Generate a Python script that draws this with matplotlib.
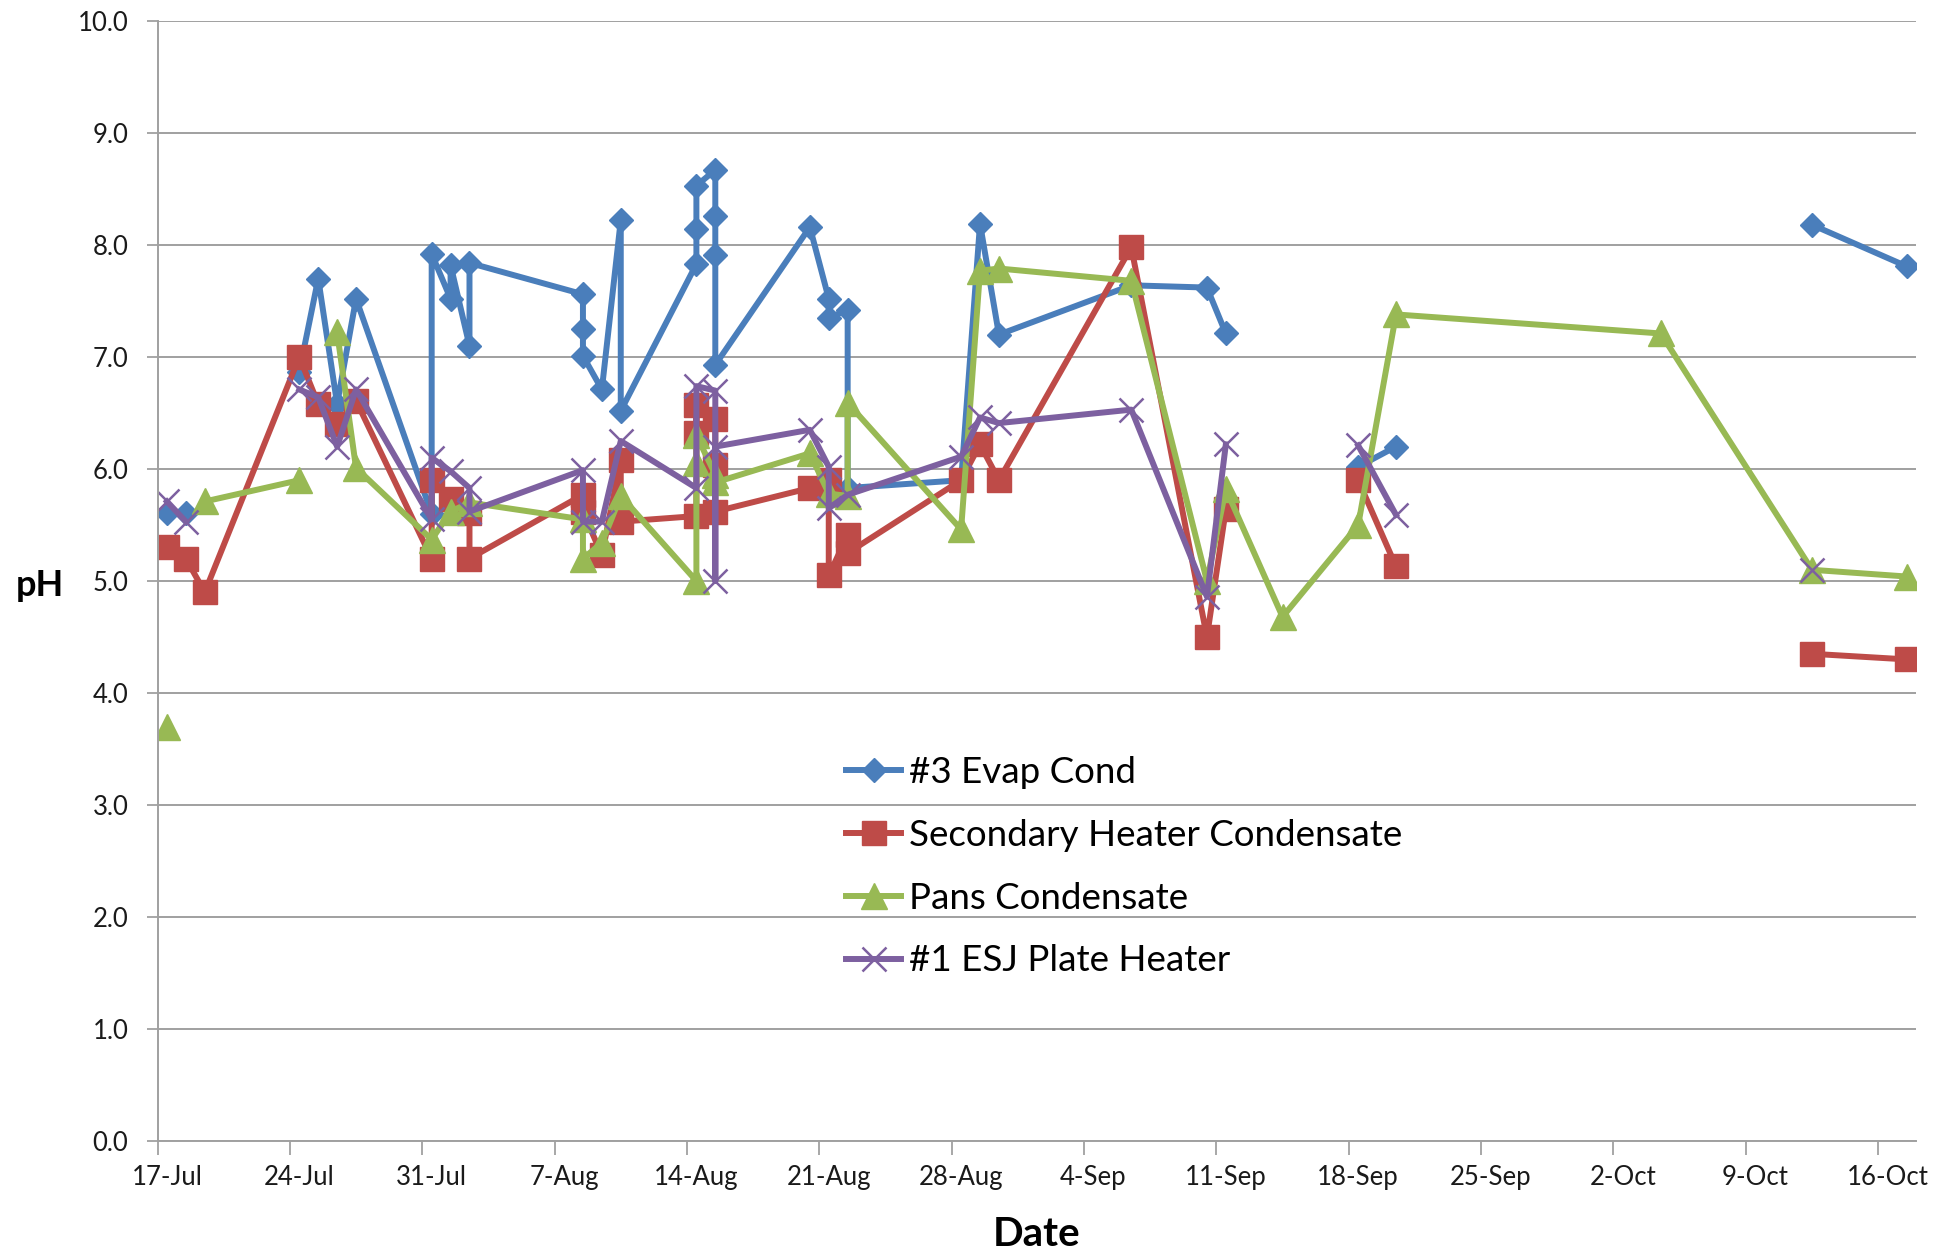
import matplotlib
matplotlib.use("Agg")
import matplotlib.pyplot as plt
import numpy as np
import pandas as pd

plt.rcParams['font.family'] = ['Lato', 'DejaVu Sans']

nan = np.nan

# #3 Evap Cond
evap_dates = ["07-17", "07-18", "07-19", "07-24", "07-25", "07-26", "07-27", "07-31", "07-31",
              "08-01", "08-01", "08-02", "08-02", "08-08", "08-08", "08-08", "08-09", "08-10",
              "08-10", "08-14", "08-14", "08-14", "08-15", "08-15", "08-15", "08-15", "08-20",
              "08-21", "08-21", "08-22", "08-22", "08-28", "08-29", "08-30", "09-06", "09-10",
              "09-11", "09-14", "09-18", "09-20", "10-04", "10-12", "10-17"]
evap_ph = [5.61, 5.61, nan, 6.87, 7.70, 6.58, 7.52, 5.60, 7.92,
           7.52, 7.82, 7.10, 7.84, 7.56, 7.25, 7.01, 6.71, 8.22,
           6.52, 7.83, 8.14, 8.53, 8.67, 8.26, 7.91, 6.93, 8.16,
           7.52, 7.35, 7.42, 5.83, 5.90, 8.19, 7.20, 7.64, 7.62,
           7.21, nan, 6.02, 6.20, nan, 8.18, 7.81]

# Secondary Heater Condensate
sec_dates = ["07-17", "07-18", "07-19", "07-24", "07-25", "07-26", "07-27", "07-31", "07-31",
             "08-01", "08-02", "08-02", "08-08", "08-08", "08-09", "08-10", "08-10", "08-14",
             "08-14", "08-14", "08-15", "08-15", "08-15", "08-20", "08-21", "08-21", "08-22",
             "08-22", "08-28", "08-29", "08-30", "09-06", "09-10", "09-11", "09-14", "09-18",
             "09-20", "10-04", "10-12", "10-17"]
sec_ph = [5.30, 5.20, 4.90, 7.00, 6.58, 6.40, 6.61, 5.20, 5.90,
          5.73, 5.61, 5.20, 5.77, 5.62, 5.23, 6.08, 5.53, 5.58,
          6.57, 6.32, 6.45, 6.04, 5.62, 5.83, 5.90, 5.05, 5.41,
          5.25, 5.90, 6.22, 5.90, 7.98, 4.50, 5.64, nan, 5.90,
          5.13, nan, 4.35, 4.30]

# Pans Condensate
pans_dates = ["07-17", "07-18", "07-19", "07-24", "07-25", "07-26", "07-27", "07-31", "08-01",
              "08-02", "08-08", "08-08", "08-09", "08-10", "08-14", "08-14", "08-14", "08-15",
              "08-15", "08-20", "08-21", "08-22", "08-22", "08-28", "08-29", "08-30", "09-06",
              "09-10", "09-11", "09-14", "09-18", "09-20", "10-04", "10-12", "10-17"]
pans_ph = [3.70, nan, 5.71, 5.90, nan, 7.22, 6.01, 5.37, 5.62,
           5.70, 5.55, 5.20, 5.34, 5.76, 5.00, 6.05, 6.30, 5.95,
           5.88, 6.14, 5.78, 5.76, 6.59, 5.46, 7.77, 7.79, 7.68,
           5.00, 5.82, 4.68, 5.50, 7.38, 7.21, 5.10, 5.04]

# #1 ESJ Plate Heater
esj_dates = ["07-17", "07-18", "07-19", "07-24", "07-25", "07-26", "07-27", "07-31", "07-31",
             "08-01", "08-02", "08-02", "08-08", "08-08", "08-09", "08-10", "08-14", "08-14",
             "08-15", "08-15", "08-15", "08-20", "08-21", "08-21", "08-22", "08-28", "08-29",
             "08-30", "09-06", "09-10", "09-11", "09-14", "09-18", "09-20", "10-04", "10-12"]
esj_ph = [5.71, 5.53, nan, 6.71, 6.64, 6.20, 6.71, 5.55, 6.10,
          5.98, 5.83, 5.62, 5.99, 5.53, 5.53, 6.25, 5.83, 6.74,
          6.70, 5.00, 6.20, 6.35, 6.02, 5.65, 5.77, 6.11, 6.46,
          6.41, 6.53, 4.86, 6.22, nan, 6.21, 5.59, nan, 5.10]

labels = ["#3 Evap Cond", "Secondary Heater Condensate", "Pans Condensate", "#1 ESJ Plate Heater"]
colors = ["#4A7EBB", "#BE4B48", "#98B954", "#7D60A0"]
YEAR = "2013"


def to_x(days):
    # Excel date axis: each date sits in the middle of its day slot
    return pd.to_datetime([YEAR + "-" + d for d in days]) + pd.Timedelta(hours=12)


fig = plt.figure(figsize=(19.42, 12.56), dpi=100)
ax = fig.add_axes([157.5 / 1942, 1 - 1141 / 1256, (1916 - 157.5) / 1942, 1120 / 1256])

lw = 4.3
ax.plot(to_x(evap_dates), evap_ph, color=colors[0], lw=lw, marker='D', ms=12.5,
        mfc=colors[0], mec=colors[0], label=labels[0])
ax.plot(to_x(sec_dates), sec_ph, color=colors[1], lw=lw, marker='s', ms=17,
        mfc=colors[1], mec=colors[1], label=labels[1])
ax.plot(to_x(pans_dates), pans_ph, color=colors[2], lw=lw, marker='^', ms=18.5,
        mfc=colors[2], mec=colors[2], label=labels[2])
ax.plot(to_x(esj_dates), esj_ph, color=colors[3], lw=lw, marker='x', ms=17,
        mew=1.8, mec="#7D60A0", label=labels[3])

start = pd.Timestamp(YEAR + "-07-17")
end = pd.Timestamp(YEAR + "-10-18")
ax.set_xlim(start, end)
ax.set_ylim(0, 10)

weeks = pd.date_range(start, periods=14, freq="7D")
ax.set_xticks(weeks)
ax.set_xticklabels([])
ax.set_xticks(weeks + pd.Timedelta(hours=12), minor=True)
ax.set_xticklabels([f"{d.day}-{d.strftime('%b')}" for d in weeks], minor=True)
ax.tick_params(axis='x', which='major', length=10, width=1.3, color='#A0A0A0')
ax.tick_params(axis='x', which='minor', length=0, pad=17, labelsize=18.5, labelcolor='#1a1a1a')

ax.set_yticks(np.arange(0, 10.5, 1.0))
ax.set_yticklabels([f"{v:.1f}" for v in np.arange(0, 10.5, 1.0)])
ax.tick_params(axis='y', length=8, width=1.3, color='#A0A0A0', pad=13,
               labelsize=18.5, labelcolor='#1a1a1a')

ax.grid(axis='y', color='#A0A0A0', lw=1.4)
ax.set_axisbelow(True)
for s in ['top', 'right']:
    ax.spines[s].set_visible(False)
for s in ['left', 'bottom']:
    ax.spines[s].set_color('#A0A0A0')
    ax.spines[s].set_linewidth(1.4)

fig.text(40 / 1942, 1 - 585 / 1256, "pH", fontsize=26, fontweight='bold',
         ha='center', va='center')
fig.text(1037 / 1942, 1 - 1235 / 1256, "Date", fontsize=29, fontweight='bold',
         ha='center', va='center')

ax.legend(loc='upper left', bbox_to_anchor=(846 / 1942, 1 - 756 / 1256),
          bbox_transform=fig.transFigure, frameon=False, fontsize=26.5,
          handlelength=1.5, handletextpad=0.2, labelspacing=0.81, borderpad=0,
          borderaxespad=0)

fig.savefig("out.png", dpi=100)
